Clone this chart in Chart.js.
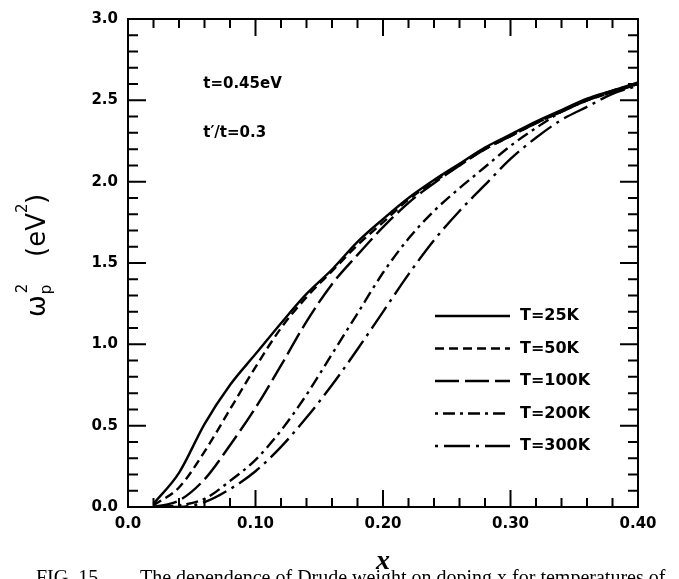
<!DOCTYPE html>
<html>
<head>
<meta charset="utf-8">
<script src="https://cdn.jsdelivr.net/npm/chart.js@4.4.0/dist/chart.umd.min.js"></script>
<style>
  html, body { margin: 0; padding: 0; background: #fff; }
</style>
</head>
<body>
<canvas id="drude-chart" width="679" height="579"></canvas>
<script>
// doping x
const dopings = [0.02, 0.04, 0.06, 0.08, 0.10, 0.12, 0.14, 0.16, 0.18, 0.20,
                 0.22, 0.24, 0.26, 0.28, 0.30, 0.32, 0.34, 0.36, 0.38, 0.40];

// plasma frequency squared (eV^2) at each temperature
const wp25 = [0.02, 0.21, 0.51, 0.75, 0.94, 1.13, 1.31, 1.46, 1.63, 1.77,
              1.90, 2.01, 2.11, 2.21, 2.29, 2.37, 2.44, 2.51, 2.56, 2.61];
const wp50 = [0.01, 0.12, 0.34, 0.60, 0.86, 1.10, 1.29, 1.45, 1.61, 1.75,
              1.89, 2.00, 2.10, 2.20, 2.28, 2.36, 2.43, 2.50, 2.55, 2.60];
const wp100 = [0.00, 0.04, 0.17, 0.38, 0.61, 0.87, 1.14, 1.37, 1.55, 1.72,
               1.87, 1.99, 2.10, 2.20, 2.28, 2.36, 2.43, 2.50, 2.55, 2.60];
const wp200 = [0.00, 0.01, 0.05, 0.16, 0.29, 0.47, 0.69, 0.94, 1.19, 1.44,
               1.65, 1.82, 1.96, 2.09, 2.22, 2.33, 2.43, 2.50, 2.56, 2.60];
const wp300 = [0.00, 0.00, 0.03, 0.11, 0.22, 0.37, 0.55, 0.75, 0.97, 1.20,
               1.43, 1.64, 1.82, 1.98, 2.14, 2.27, 2.38, 2.46, 2.54, 2.59];

const seriesLabels = ["T=25K", "T=50K", "T=100K", "T=200K", "T=300K"];
const xTicks = [0.0, 0.1, 0.2, 0.3, 0.4];
const yTicks = [0.0, 0.5, 1.0, 1.5, 2.0, 2.5, 3.0];

const dashes = [[], [9, 5], [24, 6], [3, 5, 12, 5], [3, 6, 26, 6]];
const allSeries = [wp25, wp50, wp100, wp200, wp300];

const datasets = allSeries.map(function(vals, i) {
  return {
    label: seriesLabels[i],
    data: dopings.map(function(x, j) { return {x: x, y: vals[j]}; }),
    borderColor: "#000",
    borderWidth: 2.4,
    borderDash: dashes[i],
    pointRadius: 0,
    fill: false,
    cubicInterpolationMode: "monotone"
  };
});

const boldFont = "bold 15px 'DejaVu Sans'";

// frame with inward ticks on all four sides
const frameTicks = {
  id: "frameTicks",
  afterDraw(chart) {
    const ctx = chart.ctx;
    const a = chart.chartArea;
    const xs = chart.scales.x, ys = chart.scales.y;
    ctx.save();
    ctx.strokeStyle = "#000";
    ctx.lineWidth = 2;
    ctx.strokeRect(a.left, a.top, a.right - a.left, a.bottom - a.top);
    ctx.beginPath();
    for (let i = 1; i < 20; i++) {
      const px = xs.getPixelForValue(i * 0.02);
      const len = i % 5 === 0 ? 17 : 9;
      ctx.moveTo(px, a.bottom); ctx.lineTo(px, a.bottom - len);
      ctx.moveTo(px, a.top); ctx.lineTo(px, a.top + len);
    }
    for (let i = 1; i < 30; i++) {
      const py = ys.getPixelForValue(i * 0.1);
      const len = i % 5 === 0 ? 18 : 10;
      ctx.moveTo(a.left, py); ctx.lineTo(a.left + len, py);
      ctx.moveTo(a.right, py); ctx.lineTo(a.right - len, py);
    }
    ctx.stroke();

    // parameters
    ctx.fillStyle = "#000";
    ctx.font = boldFont;
    ctx.textBaseline = "middle";
    ctx.textAlign = "left";
    ctx.fillText("t=0.45eV", xs.getPixelForValue(0.059), ys.getPixelForValue(2.6));
    ctx.fillText("t\u2032/t=0.3", xs.getPixelForValue(0.059), ys.getPixelForValue(2.3));

    // legend
    ctx.lineWidth = 2.4;
    chart.data.datasets.forEach(function(ds, i) {
      const y = a.top + 297 + i * 32.5;
      ctx.setLineDash(ds.borderDash);
      ctx.beginPath();
      ctx.moveTo(a.left + 307, y);
      ctx.lineTo(a.left + 382, y);
      ctx.stroke();
      ctx.setLineDash([]);
      ctx.font = "bold 16px 'DejaVu Sans'";
      ctx.fillText(ds.label, a.left + 392, y);
    });

    // y title: omega_p^2 (eV^2)
    ctx.save();
    ctx.translate(45, 317);
    ctx.rotate(-Math.PI / 2);
    ctx.textBaseline = "alphabetic";
    ctx.font = "26px 'DejaVu Sans'";
    ctx.fillText("\u03c9", 0, 0);
    let w = ctx.measureText("\u03c9").width;
    ctx.font = "15px 'DejaVu Sans'";
    ctx.fillText("p", w + 1, 6);
    ctx.fillText("2", w + 2, -18);
    ctx.font = "26px 'DejaVu Sans'";
    ctx.fillText("(eV", 60, 0);
    w = 60 + ctx.measureText("(eV").width;
    ctx.font = "15px 'DejaVu Sans'";
    ctx.fillText("2", w, -18);
    ctx.font = "26px 'DejaVu Sans'";
    ctx.fillText(")", w + 9, 0);
    ctx.restore();

    // x title
    ctx.textAlign = "center";
    ctx.textBaseline = "alphabetic";
    ctx.font = "italic bold 28px 'Liberation Serif'";
    ctx.fillText("x", xs.getPixelForValue(0.2), 569);

    // caption, cut by the bottom edge
    ctx.textAlign = "left";
    ctx.font = "20px 'Liberation Serif'";
    ctx.fillText("FIG. 15.", 36, 584);
    ctx.fillText("The dependence of Drude weight on doping x for temperatures of", 140, 584);
    ctx.restore();
  }
};

new Chart("drude-chart", {
  type: "line",
  data: { datasets: datasets },
  options: {
    responsive: false,
    animation: false,
    layout: { padding: { left: 0, top: 10, right: 41, bottom: 0 } },
    plugins: { legend: { display: false }, tooltip: { enabled: false } },
    scales: {
      x: {
        type: "linear",
        min: 0, max: 0.4,
        afterFit: function(s) { s.height = 72; },
        afterBuildTicks: function(s) { s.ticks = xTicks.map(function(v) { return {value: v}; }); },
        grid: { display: false, drawTicks: false },
        border: { display: false },
        ticks: {
          padding: 8,
          color: "#000",
          font: { family: "DejaVu Sans", weight: "bold", size: 15 },
          callback: function(v) { return v === 0 ? "0.0" : v.toFixed(2); }
        }
      },
      y: {
        type: "linear",
        min: 0, max: 3,
        afterFit: function(s) { s.width = 128; },
        afterBuildTicks: function(s) { s.ticks = yTicks.map(function(v) { return {value: v}; }); },
        grid: { display: false, drawTicks: false },
        border: { display: false },
        ticks: {
          padding: 10,
          color: "#000",
          font: { family: "DejaVu Sans", weight: "bold", size: 15 },
          callback: function(v) { return v.toFixed(1); }
        }
      }
    }
  },
  plugins: [frameTicks]
});
</script>
</body>
</html>
